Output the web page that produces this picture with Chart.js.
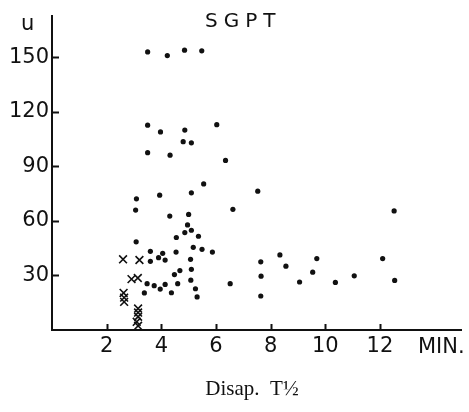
<!DOCTYPE html>
<html>
<head>
<meta charset="utf-8">
<script src="https://cdn.jsdelivr.net/npm/chart.js@4"></script>
<style>
  html, body { margin: 0; padding: 0; background: #fff; }
  #wrap { width: 469px; height: 412px; }
</style>
</head>
<body>
<div id="wrap"><canvas id="myChart" width="469" height="412"></canvas></div>
<script>
// disappearance half-life (min) vs SGPT (u)
const dotHalfLife = [3.5, 4.22, 4.85, 5.48, 3.5, 3.97, 4.86, 6.03, 4.8, 5.1, 3.5, 4.32, 6.35, 5.55, 5.1, 3.94, 3.09,
  6.62, 3.06, 4.31, 5.0, 4.96, 5.1, 4.86, 4.55, 5.36, 3.08, 3.6, 4.54, 5.17, 5.49, 5.87, 4.05, 3.9, 4.14, 3.6, 5.07,
  4.68, 4.48, 5.1, 5.08, 3.48, 3.74, 3.96, 4.14, 4.6, 3.38, 4.37, 5.25, 5.31, 6.52,
  7.53, 12.52, 8.34, 7.64, 8.56, 9.69, 12.1, 9.54, 7.65, 11.06, 9.06, 10.37, 12.54, 7.64];
const dotSGPT = [153, 151, 154, 153.6, 112.7, 109, 110, 113, 103.6, 103, 97.6, 96.2, 93.3, 80.4, 75.5, 74.2, 72.2,
  66.4, 66, 62.7, 63.6, 57.8, 54.9, 53.6, 50.9, 51.6, 48.5, 43.3, 42.9, 45.5, 44.4, 42.9, 42.2, 39.8, 38.5, 37.8, 38.9,
  32.7, 30.5, 33.4, 27.4, 25.5, 24.4, 22.5, 25.1, 25.5, 20.4, 20.5, 22.7, 18.2, 25.5,
  76.4, 65.5, 41.3, 37.5, 35.1, 39.3, 39.3, 31.8, 29.6, 29.8, 26.4, 26.2, 27.3, 18.7];

const crossHalfLife = [2.6, 3.2, 2.91, 3.14, 2.62, 2.64, 2.64, 3.15, 3.15, 3.15, 3.1, 3.15];
const crossSGPT = [38.9, 38.5, 28, 28.6, 20.4, 17.8, 15.5, 11.8, 9.6, 7.3, 4.5, 2.3];

const xTicks = [2, 4, 6, 8, 10, 12];
const yTicks = [30, 60, 90, 120, 150];

function toPoints(xs, ys) {
  return xs.map((x, i) => ({ x: x, y: ys[i] }));
}

const textPlugin = {
  id: "textPlugin",
  afterDraw(chart) {
    const { ctx, scales: { x, y } } = chart;
    ctx.save();
    ctx.strokeStyle = "#111";
    ctx.lineWidth = 2;
    // short tick marks pointing into the plot
    y.ticks.forEach((t) => {
      const py = Math.round(y.getPixelForValue(t.value)) + 0.5;
      ctx.beginPath();
      ctx.moveTo(chart.chartArea.left, py);
      ctx.lineTo(chart.chartArea.left + 7, py);
      ctx.stroke();
    });
    x.ticks.forEach((t) => {
      const px = Math.round(x.getPixelForValue(t.value)) + 0.5;
      ctx.beginPath();
      ctx.moveTo(px, chart.chartArea.bottom);
      ctx.lineTo(px, chart.chartArea.bottom - 6);
      ctx.stroke();
    });

    ctx.fillStyle = "#111";
    ctx.textBaseline = "alphabetic";
    ctx.font = "20px 'DejaVu Sans'";
    ctx.letterSpacing = "6px";
    ctx.textAlign = "left";
    ctx.fillText("SGPT", 205, 27);
    ctx.letterSpacing = "0px";

    ctx.font = "21px 'DejaVu Sans'";
    ctx.fillText("u", 21, 30);
    ctx.fillText("MIN.", 418, 353);

    ctx.font = "21px 'Liberation Serif'";
    ctx.textAlign = "center";
    ctx.fillText("Disap.  T\u00BD", 252, 395);
    ctx.restore();
  }
};

const ctx = document.getElementById("myChart").getContext("2d");
const chart = new Chart(ctx, {
  type: "scatter",
  data: {
    datasets: [{
      label: "dots",
      data: toPoints(dotHalfLife, dotSGPT),
      pointStyle: "circle",
      pointRadius: 2.6,
      backgroundColor: "#111",
      borderColor: "#111",
      borderWidth: 0
    }, {
      label: "crosses",
      data: toPoints(crossHalfLife, crossSGPT),
      pointStyle: "crossRot",
      pointRadius: 5.5,
      borderColor: "#111",
      borderWidth: 1.6
    }]
  },
  options: {
    responsive: false,
    animation: false,
    layout: { padding: { top: 13, right: 1, left: 0, bottom: 0 } },
    plugins: {
      legend: { display: false },
      tooltip: { enabled: false }
    },
    scales: {
      x: {
        type: "linear",
        min: 0,
        max: 15,
        afterBuildTicks: (scale) => { scale.ticks = xTicks.map((v) => ({ value: v })); },
        afterFit: (scale) => { scale.height = 82; },
        grid: { display: false, drawTicks: false },
        border: { display: true, color: "#111", width: 2 },
        ticks: {
          color: "#111",
          padding: 4,
          maxRotation: 0,
          font: { family: "DejaVu Sans", size: 21 }
        }
      },
      y: {
        type: "linear",
        min: 0,
        max: 173,
        afterBuildTicks: (scale) => { scale.ticks = yTicks.map((v) => ({ value: v })); },
        afterFit: (scale) => { scale.width = 52; },
        grid: { display: false, drawTicks: false },
        border: { display: true, color: "#111", width: 2 },
        ticks: {
          color: "#111",
          padding: 3,
          font: { family: "DejaVu Sans", size: 21 }
        }
      }
    }
  },
  plugins: [textPlugin]
});
</script>
</body>
</html>
